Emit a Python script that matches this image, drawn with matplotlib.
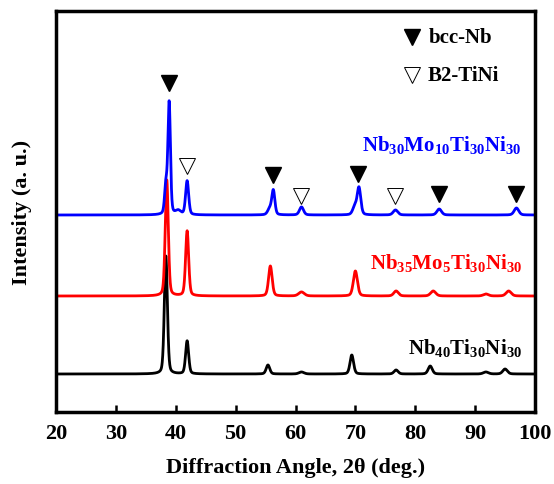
import matplotlib as mpl
import matplotlib.pyplot as plt
import numpy as np

mpl.rcParams.update({
    'font.family': 'Liberation Serif',
    'font.weight': 'bold',
    'axes.labelweight': 'bold',
    'mathtext.fontset': 'custom',
    'mathtext.rm': 'Liberation Serif:bold',
    'mathtext.it': 'Liberation Serif:bold',
    'mathtext.bf': 'Liberation Serif:bold',
})

# peak lists: position (deg), height (a.u. above baseline), fwhm
black_pos = [38.35, 41.9, 55.4, 61.0, 69.4, 76.8, 82.5, 91.8, 95.0]
black_h = [118, 33, 9, 2, 19, 4, 8, 2, 5]
black_w = [0.6, 0.6, 0.7, 1.0, 0.7, 0.8, 0.8, 1.0, 0.9]

red_pos = [38.5, 41.9, 55.8, 61.0, 70.0, 76.8, 83.0, 91.8, 95.6]
red_h = [116, 65, 30, 4, 25, 5, 5, 2, 5]
red_w = [0.6, 0.6, 0.7, 1.1, 0.8, 0.9, 1.0, 1.0, 1.0]

blue_pos = [38.35, 38.9, 40.4, 41.9, 55.7, 56.3, 61.0, 69.9, 70.6, 76.7, 84.0, 96.9]
blue_h = [28, 112, 4, 34, 6, 24, 8, 8, 27, 5, 6, 7]
blue_w = [0.5, 0.5, 1.0, 0.6, 0.8, 0.6, 0.8, 0.8, 0.7, 0.9, 0.9, 0.9]

baselines = [38, 116, 197]
colors = ['black', 'red', 'blue']
labels = [r'Nb$_{40}$Ti$_{30}$Ni$_{30}$',
          r'Nb$_{35}$Mo$_{5}$Ti$_{30}$Ni$_{30}$',
          r'Nb$_{30}$Mo$_{10}$Ti$_{30}$Ni$_{30}$']
label_y = [65, 150, 268]

# phase markers above the blue pattern
bcc_x = [38.9, 56.3, 70.5, 84.0, 96.8]
bcc_y = [329, 237, 238, 218, 218]
b2_x = [41.9, 61.0, 76.6]
b2_y = [246, 216, 216]


def profile(x, pos, h, w):
    y = np.zeros_like(x)
    for p, a, f in zip(pos, h, w):
        s = f / 2.355
        g = np.exp(-0.5 * ((x - p) / s) ** 2)
        l = 1 / (1 + ((x - p) / (f / 2)) ** 2)
        y += a * (0.7 * g + 0.3 * l)
    return y


dpi = 100
fig = plt.figure(dpi=dpi, figsize=(554 / dpi, 485 / dpi))
ax = fig.add_axes([56 / 554, 1 - 413 / 485, (535 - 56) / 554, (413 - 12) / 485])

x = np.linspace(20, 100, 4000)
peaks = [(black_pos, black_h, black_w), (red_pos, red_h, red_w), (blue_pos, blue_h, blue_w)]
for (pos, h, w), base, c, lab, ly in zip(peaks, baselines, colors, labels, label_y):
    ax.plot(x, base + profile(x, pos, h, w), color=c, lw=2)
    ax.text(97.8, ly, lab, color=c, fontsize=15, ha='right', va='center')

ax.plot(bcc_x, bcc_y, 'v', color='black', ms=11, ls='none')
ax.plot(b2_x, b2_y, 'v', mfc='white', mec='black', mew=0.7, ms=11, ls='none')

# legend drawn by hand
ax.plot([79.4], [375], 'v', color='black', ms=11)
ax.text(82.3, 375, 'bcc-Nb', fontsize=15, va='center')
ax.plot([79.4], [337], 'v', mfc='white', mec='black', mew=0.7, ms=11)
ax.text(82.1, 337, 'B2-TiNi', fontsize=15, va='center')

ax.set_xlim(20, 100)
ax.set_ylim(0, 401)
ax.set_xticks(range(20, 101, 10))
ax.set_yticks([])
ax.tick_params(axis='x', direction='in', length=5, width=1.8, labelsize=16, pad=8)
for s in ax.spines.values():
    s.set_linewidth(2.5)

ax.set_xlabel('Diffraction Angle, 2\u03b8 (deg.)', fontsize=16, labelpad=10)
ax.set_ylabel('Intensity (a. u.)', fontsize=16, labelpad=17)

fig.savefig('out.png', dpi=dpi)
